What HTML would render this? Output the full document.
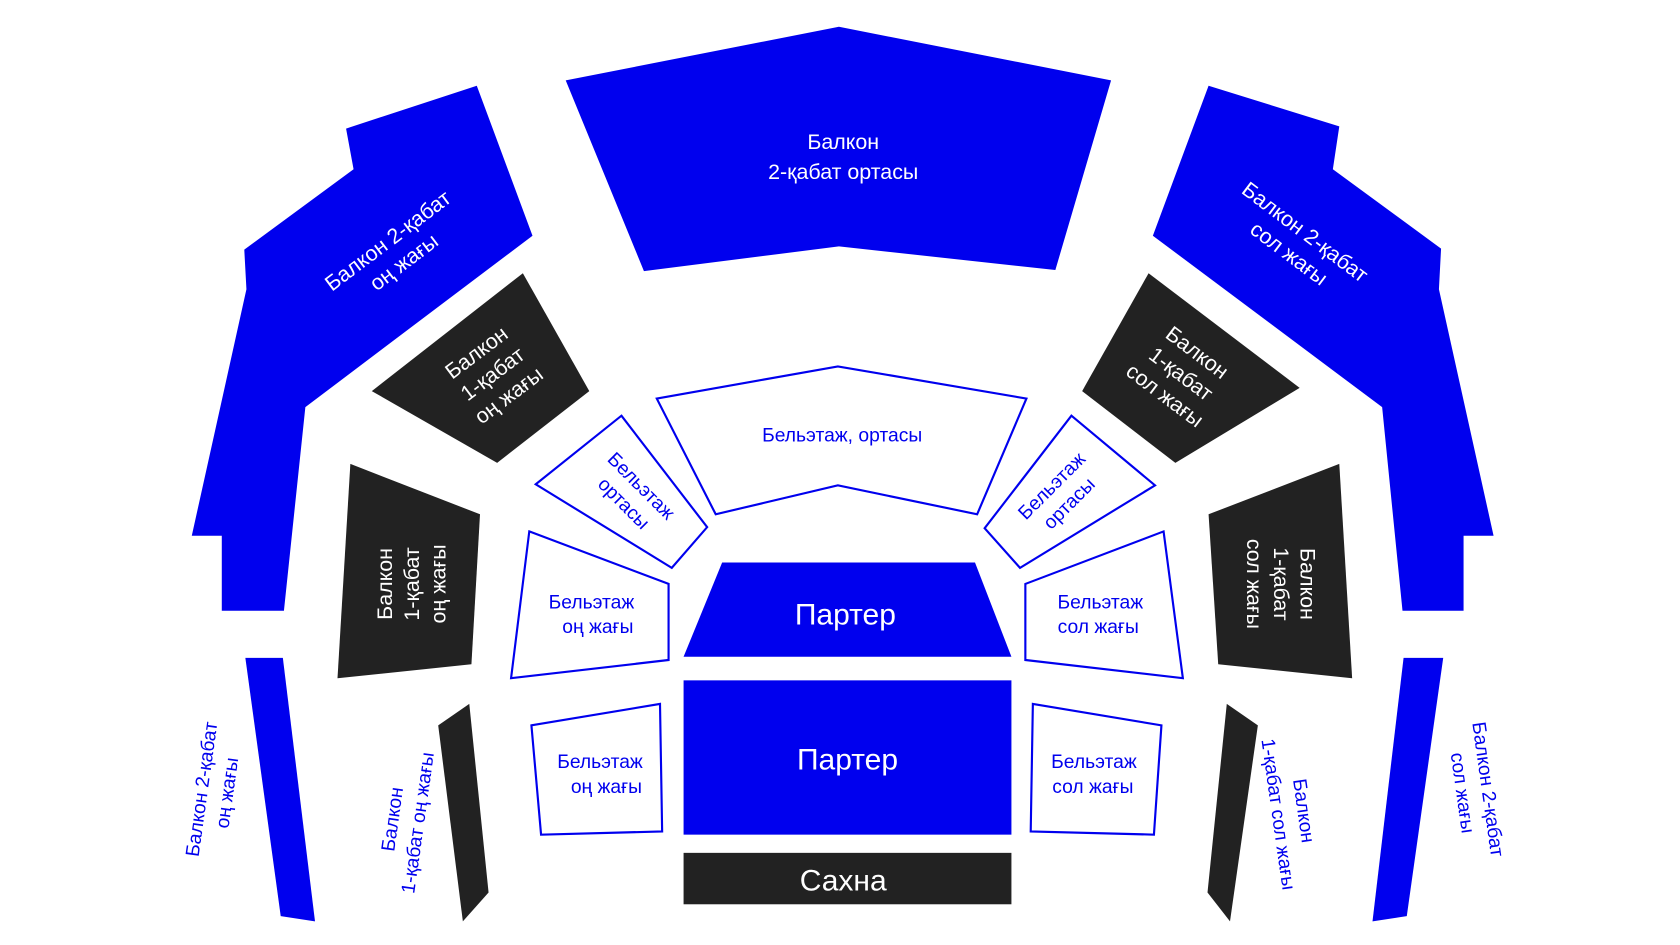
<!DOCTYPE html>
<html><head><meta charset="utf-8"><style>
html,body{margin:0;padding:0;background:#fff;}
svg{display:block}
text{font-family:"Liberation Sans",sans-serif;text-anchor:middle;}
.w{fill:#fff;font-size:20px}
.b{fill:#0000ee;font-size:18px}
.bb{fill:#0000ee;font-size:18px}
</style></head><body>
<svg width="1680" height="945" viewBox="0 0 1568 882" xmlns="http://www.w3.org/2000/svg">
<g fill="#0000ee">
<polygon points="528,75 783,25 1037,75 985,252 783,230 601,253"/>
<polygon points="445,80 497,220 285,380 265,570 207,570 207,500 179,500 230,270 228,233 330,158 323,120"/>
<polygon points="1128,80 1250,118 1244,158 1345,232 1343,270 1394,500 1366,500 1366,570 1309,570 1290,380 1076,220"/>
<polygon points="674,525 910,525 944,613 638,613"/>
<rect x="638" y="635" width="306" height="144"/>
<polygon points="229,614 264,614 294,860 262,855"/>
<polygon points="1310,614 1347,614 1313,855 1281,860"/>
</g>
<g fill="#222">
<polygon points="488,255 550,365 464,432 347,365"/>
<polygon points="1072,255 1213,362 1097,432 1010,365"/>
<polygon points="327,433 448,480 440,620 315,633"/>
<polygon points="1250,433 1262,633 1137,620 1128,480"/>
<rect x="638" y="796" width="306" height="48"/>
<polygon points="409,677 438,657 456,833 432,860"/>
<polygon points="1145,657 1174,677 1148,860 1127,833"/>
</g>
<g fill="#fff" stroke="#0000ee" stroke-width="2">
<polygon points="613,372 782,342 958,372 912,480 782,453 668,480"/>
<polygon points="580,388 660,492 627,530 500,452"/>
<polygon points="1000,388 1078,453 952,530 919,493"/>
<polygon points="494,496 624,545 624,616 477,633"/>
<polygon points="1086,496 1104,633 957,616 957,545"/>
<polygon points="496,677 616,657 618,776 505,779"/>
<polygon points="964,657 1084,677 1077,779 962,776"/>
</g>
<text class="w" x="787" y="139">Балкон</text>
<text class="w" x="787" y="167">2-қабат ортасы</text>
<text class="w" transform="translate(366,230) rotate(-37)"><tspan x="0" y="0">Балкон 2-қабат</tspan><tspan x="0" y="25">оң жағы</tspan></text>
<text class="w" transform="translate(1214,222) rotate(37)"><tspan x="0" y="0">Балкон 2-қабат</tspan><tspan x="0" y="25">сол жағы</tspan></text>
<text class="w" transform="translate(462,352) rotate(-37)"><tspan x="0" y="-22">Балкон</tspan><tspan x="0" y="3">1-қабат</tspan><tspan x="0" y="28">оң жағы</tspan></text>
<text class="w" transform="translate(1100,352) rotate(37)"><tspan x="0" y="-22">Балкон</tspan><tspan x="0" y="3">1-қабат</tspan><tspan x="0" y="28">сол жағы</tspan></text>
<text class="w" transform="translate(388,545) rotate(-90)"><tspan x="0" y="-22">Балкон</tspan><tspan x="0" y="3">1-қабат</tspan><tspan x="0" y="28">оң жағы</tspan></text>
<text class="w" transform="translate(1192,545) rotate(90)"><tspan x="0" y="-22">Балкон</tspan><tspan x="0" y="3">1-қабат</tspan><tspan x="0" y="28">сол жағы</tspan></text>
<text class="b" x="786" y="412">Бельэтаж, ортасы</text>
<text class="b" transform="translate(590,462) rotate(45)"><tspan x="0" y="-6">Бельэтаж</tspan><tspan x="0" y="17">ортасы</tspan></text>
<text class="b" transform="translate(990,462) rotate(-45)"><tspan x="0" y="-6">Бельэтаж</tspan><tspan x="0" y="17">ортасы</tspan></text>
<text class="b" x="552" y="568">Бельэтаж</text><text class="b" x="558" y="591">оң жағы</text>
<text class="b" x="1027" y="568">Бельэтаж</text><text class="b" x="1025" y="591">сол жағы</text>
<text class="b" x="560" y="717">Бельэтаж</text><text class="b" x="566" y="740">оң жағы</text>
<text class="b" x="1021" y="717">Бельэтаж</text><text class="b" x="1020" y="740">сол жағы</text>
<text style="fill:#fff;font-size:28px" x="789" y="583">Партер</text>
<text style="fill:#fff;font-size:28px" x="791" y="718">Партер</text>
<text style="fill:#fff;font-size:28px" x="787" y="831">Сахна</text>
<text class="bb" transform="translate(198,738) rotate(-82)"><tspan x="0" y="-4">Балкон 2-қабат</tspan><tspan x="0" y="20">оң жағы</tspan></text>
<text class="bb" transform="translate(1379,738) rotate(82)"><tspan x="0" y="-4">Балкон 2-қабат</tspan><tspan x="0" y="20">сол жағы</tspan></text>
<text class="bb" transform="translate(376,766) rotate(-82)"><tspan x="0" y="-4">Балкон</tspan><tspan x="0" y="20">1-қабат оң жағы</tspan></text>
<text class="bb" transform="translate(1207,758) rotate(82)"><tspan x="0" y="-4">Балкон</tspan><tspan x="0" y="20">1-қабат сол жағы</tspan></text>
</svg>
</body></html>
